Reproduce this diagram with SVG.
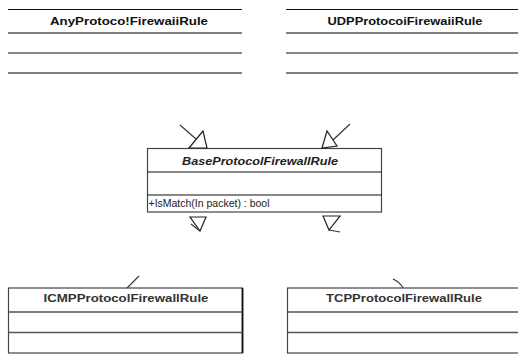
<svg xmlns="http://www.w3.org/2000/svg" width="518" height="354" viewBox="0 0 518 354">
  <style>
    .rule { stroke: #111; stroke-width: 1.2; fill: none; }
    .div { stroke: #555; stroke-width: 1.6; fill: none; }
    .box { fill: #fff; stroke: #444; stroke-width: 1.2; }
    .title { font-family: "Liberation Sans", Arial, sans-serif; font-size: 11.5px; font-weight: bold; fill: #111; text-anchor: middle; }
    .ttl2 { font-family: "Liberation Sans", Arial, sans-serif; font-size: 11.5px; font-weight: bold; fill: #333; text-anchor: middle; }
    .op { font-family: "Liberation Sans", Arial, sans-serif; font-size: 11px; fill: #222; }
    .edge { stroke: #333; stroke-width: 1.1; fill: none; }
    .head { stroke: #222; stroke-width: 1.2; fill: #fff; }
  </style>
  <rect width="518" height="354" fill="#fff"/>

  <g id="AnyProtocolFirewallRule">
    <line class="rule" x1="8" y1="9.5" x2="242" y2="9.5"/>
    <text class="title" x="129" y="25" textLength="158" lengthAdjust="spacingAndGlyphs">AnyProtoco!FirewaiiRule</text>
    <line class="div" x1="8" y1="33" x2="242" y2="33"/>
    <line class="rule" x1="8" y1="53" x2="242" y2="53"/>
    <line class="div" x1="8" y1="73" x2="242" y2="73"/>
  </g>

  <g id="UDPProtocolFirewallRule">
    <line class="rule" x1="286" y1="9.5" x2="518" y2="9.5"/>
    <text class="title" x="405" y="25" textLength="155" lengthAdjust="spacingAndGlyphs">UDPProtocoiFirewaiiRule</text>
    <line class="div" x1="286" y1="33" x2="518" y2="33"/>
    <line class="rule" x1="286" y1="53" x2="518" y2="53"/>
    <line class="div" x1="286" y1="73" x2="518" y2="73"/>
  </g>

  <g id="BaseProtocolFirewallRule">
    <rect class="box" x="147.5" y="148.5" width="234" height="63.5" stroke="#222"/>
    <text class="op" x="260" y="165" text-anchor="middle" font-style="italic" font-weight="bold" fill="#333" textLength="156" lengthAdjust="spacingAndGlyphs">BaseProtocolFirewallRule</text>
    <line class="rule" x1="147.5" y1="172" x2="381.5" y2="172" stroke="#555"/>
    <line class="rule" x1="147.5" y1="195" x2="381.5" y2="195" stroke="#555"/>
    <text class="op" x="148.5" y="207" textLength="121" lengthAdjust="spacingAndGlyphs">+IsMatch(In packet) : bool</text>
  </g>

  <g id="ICMPProtocolFirewallRule">
    <rect class="box" x="8.5" y="288" width="234" height="65"/>
    <line x1="242.5" y1="288" x2="242.5" y2="353" stroke="#111" stroke-width="1.8"/>
    <text class="ttl2" x="126" y="302" textLength="165" lengthAdjust="spacingAndGlyphs">ICMPProtocolFirewallRule</text>
    <line class="div" x1="8.5" y1="312" x2="242.5" y2="312"/>
    <line class="div" x1="8.5" y1="332.5" x2="242.5" y2="332.5"/>
  </g>

  <g id="TCPProtocolFirewallRule">
    <rect class="box" x="287.5" y="288" width="240" height="65"/>
    <text class="ttl2" x="404" y="302" textLength="156" lengthAdjust="spacingAndGlyphs">TCPProtocolFirewallRule</text>
    <line class="div" x1="287.5" y1="312" x2="518" y2="312"/>
    <line class="div" x1="287.5" y1="332.5" x2="518" y2="332.5"/>
  </g>

  <g id="connectors">
    <!-- from AnyProtocolFirewallRule -->
    <line class="edge" x1="180" y1="125" x2="196" y2="139"/>
    <polygon class="head" points="203,131 189,148 207,148"/>
    <!-- from UDPProtocolFirewallRule -->
    <line class="edge" x1="350" y1="124" x2="333" y2="140"/>
    <polygon class="head" points="327,131 322,148 337,146"/>
    <!-- from ICMPProtocolFirewallRule -->
    <polygon class="head" points="190,217 206,217 200,231"/>
    <line class="edge" x1="200" y1="231" x2="191" y2="224"/>
    <line class="edge" x1="127" y1="288" x2="139" y2="276"/>
    <!-- from TCPProtocolFirewallRule -->
    <polygon class="head" points="323,216 340,216 329,230"/>
    <line class="edge" x1="329" y1="230" x2="340" y2="232"/>
    <path class="edge" d="M393,279 Q400,282 403,288"/>
  </g>
</svg>
